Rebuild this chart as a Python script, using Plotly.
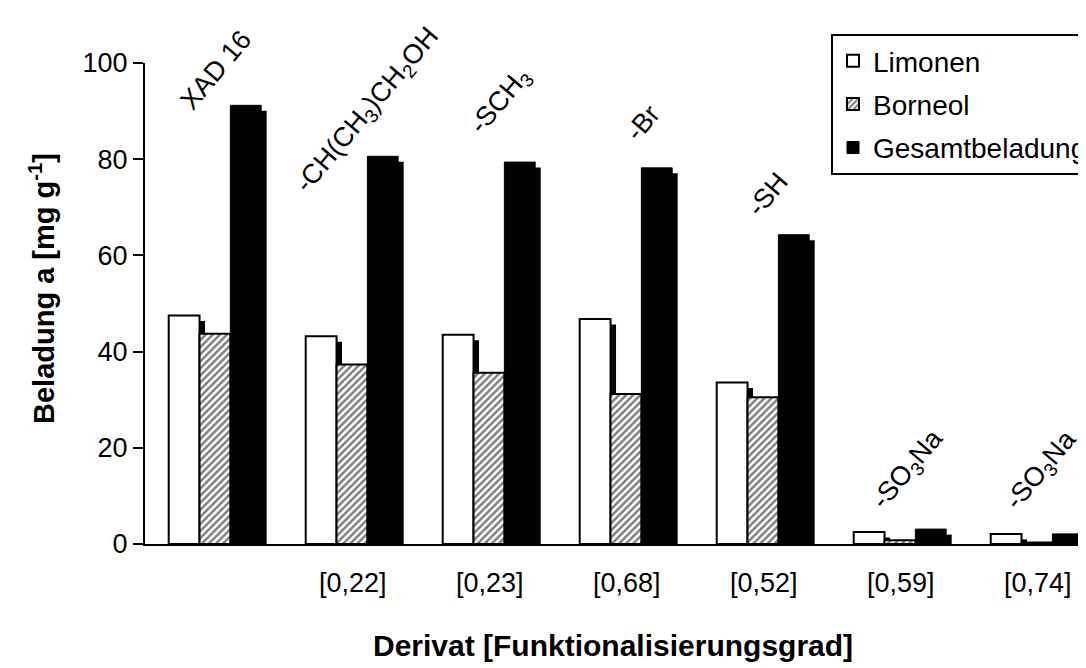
import plotly.graph_objects as go
import numpy as np

# ---------------- data ----------------
derivat_labels = ["XAD 16", "-CH(CH<sub>3</sub>)CH<sub>2</sub>OH", "-SCH<sub>3</sub>", "-Br", "-SH",
                  "-SO<sub>3</sub>Na", "-SO<sub>3</sub>Na"]
grad_labels = ["", "[0,22]", "[0,23]", "[0,68]", "[0,52]", "[0,59]", "[0,74]"]
limonen = [47.5, 43.2, 43.5, 46.8, 33.6, 2.5, 2.1]
borneol = [43.7, 37.3, 35.6, 31.2, 30.5, 0.8, 0.3]
gesamt = [91.2, 80.6, 79.4, 78.2, 64.3, 3.1, 2.1]

# ---------------- layout constants ----------------
W, H = 1086, 668
L, R, T, B = 137, 0, 55, 132
pw, ph = W - L - R, H - T - B
cat_px = 137.0
x0_center = 207.7
xr = [-(x0_center - L) / cat_px, (W - R - x0_center) / cat_px]
px_per_unit = ph / 100.0

bw = 0.225
offsets = [-0.343, -0.343 + bw, -0.343 + 2 * bw]
sh_dx = 5.5 / cat_px
sh_dy = 5.5 / px_per_unit

FONT = "Arial, Liberation Sans, sans-serif"
x = np.arange(len(grad_labels))

fig = go.Figure()
series = [
    ("Limonen", limonen, dict(color="white", line=dict(color="black", width=2))),
    ("Borneol", borneol, dict(color="white", line=dict(color="black", width=2),
                               pattern=dict(shape="/", fgcolor="black", bgcolor="white",
                                            size=5, solidity=0.5))),
    ("Gesamtbeladung", gesamt, dict(color="black", line=dict(color="black", width=1))),
]
for i, (name, vals, marker) in enumerate(series):
    # drop shadow of the bar
    fig.add_trace(go.Bar(x=x, y=vals, base=-sh_dy, width=bw, offset=offsets[i] + sh_dx,
                         marker=dict(color="black", line=dict(width=0)),
                         showlegend=False, hoverinfo="skip"))
    fig.add_trace(go.Bar(x=x, y=vals, width=bw, offset=offsets[i], name=name,
                         marker=marker, legendgroup=name))

# rotated derivative labels
label_xshift = [0, 15, 12, 16, 4, 8, 4]
label_y = [98.6, 90.1, 92.0, 87.5, 72.8, 15.3, 15.2]
ann = []
for i, t in enumerate(derivat_labels):
    ann.append(dict(x=i, y=label_y[i], xref="x", yref="y", text=t, textangle=-50,
                    showarrow=False, xanchor="center", yanchor="middle",
                    xshift=label_xshift[i], font=dict(size=27, color="black", family=FONT)))

ann.append(dict(x=(34 - L) / pw, y=(536 - 281) / ph, xref="paper", yref="paper",
                text="<b>Beladung a [mg g<sup>-1</sup>]</b>", textangle=-90, showarrow=False,
                xanchor="center", yanchor="middle", font=dict(size=29, color="black", family=FONT)))
ann.append(dict(x=(363 - L) / pw, y=(536 - 656) / ph, xref="paper", yref="paper",
                text="<b>Derivat [Funktionalisierungsgrad]</b>", showarrow=False,
                xanchor="left", yanchor="bottom", font=dict(size=30, color="black", family=FONT)))

# legend shadow (box runs past the right edge, so only the bottom part shows)
lx0, ly0, ly1 = 823, 26, 150
sd = 6
shapes = [dict(type="rect", xref="paper", yref="paper",
               x0=(lx0 + sd - L) / pw, x1=(W + 20 - L) / pw,
               y0=(536 - (ly1 + sd)) / ph, y1=(536 - (ly0 + sd)) / ph,
               fillcolor="black", line=dict(width=0), layer="above")]

fig.update_layout(
    width=W, height=H,
    margin=dict(l=L, r=R, t=T, b=B, autoexpand=False),
    barmode="overlay",
    paper_bgcolor="white", plot_bgcolor="white",
    font=dict(family=FONT, size=27, color="black"),
    showlegend=True,
    legend=dict(x=(lx0 - L) / pw, y=(536 - ly0) / ph, xanchor="left", yanchor="top",
                bgcolor="white", bordercolor="black", borderwidth=2,
                font=dict(size=28, family=FONT, color="black"),
                tracegroupgap=4, itemwidth=30, entrywidth=250, entrywidthmode="pixels"),
    annotations=ann,
    shapes=shapes,
    xaxis=dict(range=xr, tickvals=x, ticktext=grad_labels, showline=True, linecolor="black",
               linewidth=2, ticks="", showgrid=False, zeroline=False,
               tickfont=dict(size=27, family=FONT, color="black"), ticklabelstandoff=14),
    yaxis=dict(range=[0, 100], dtick=20, showline=True, linecolor="black", linewidth=2,
               ticks="outside", ticklen=10, tickwidth=2, tickcolor="black", showgrid=False,
               zeroline=False, tickfont=dict(size=27, family=FONT, color="black")),
)

fig.write_html("out.html")
